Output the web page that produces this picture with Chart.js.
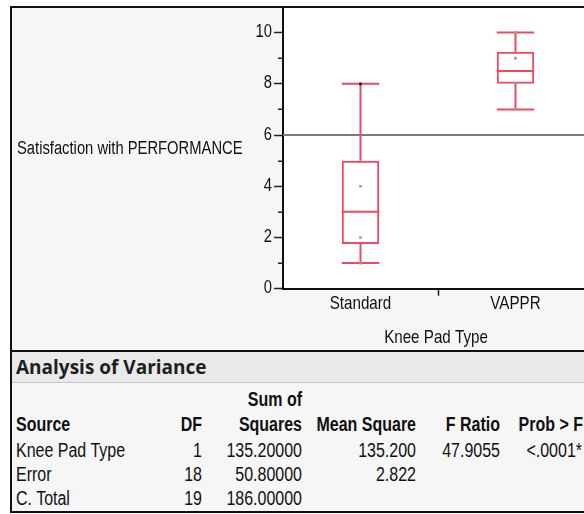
<!DOCTYPE html>
<html>
<head>
<meta charset="utf-8">
<script src="https://cdn.jsdelivr.net/npm/chart.js@4/dist/chart.umd.min.js"></script>
<style>
  html, body { margin: 0; padding: 0; background: #fff; overflow: hidden; }
  body { width: 584px; height: 514px; position: relative; }
  #panel { position: absolute; left: 10px; top: 6px; width: 620px; height: 507px; background: #f6f6f6; }
  #frame { position: absolute; left: 10px; top: 6px; width: 620px; height: 503px;
           border-left: 2px solid #111; border-top: 2px solid #111; border-bottom: 2px solid #111;
           z-index: 5; pointer-events: none; }
  #chart { position: absolute; left: 0; top: 0; z-index: 2; }
  .narrow { font-family: "Liberation Sans", Arial, sans-serif; color: #111; }
  #ytitle { position: absolute; left: 17px; top: 137px; font-size: 18px; line-height: 22px; white-space: nowrap;
            z-index: 3; transform: scaleX(0.82); transform-origin: left center; }
  #divider { position: absolute; left: 10px; top: 350px; width: 620px; height: 2px; background: #111; z-index: 4; }
  #band { position: absolute; left: 12px; top: 352px; width: 620px; height: 30px; background: #e9e9e9;
          border-bottom: 1px solid #c6c6c6; z-index: 3; }
  #bandTitle { position: absolute; left: 16px; top: 354px; font-family: "Open Sans", "DejaVu Sans", sans-serif;
               font-weight: 700; font-size: 19px; line-height: 26px; color: #1e1e1e; z-index: 4; white-space: nowrap; }
  .cell { position: absolute; font-size: 19.5px; line-height: 22px; white-space: nowrap; z-index: 3; }
  .cell.left { transform: scaleX(0.82); transform-origin: left center; }
  .cell.right { transform: scaleX(0.82); transform-origin: right center; text-align: right; width: 300px; }
  .hdr { font-weight: 700; }
</style>
</head>
<body>
<div id="panel"></div>
<canvas id="chart" width="600" height="350"></canvas>
<div id="ytitle" class="narrow">Satisfaction with PERFORMANCE</div>
<div id="divider"></div>
<div id="band"></div>
<div id="bandTitle">Analysis of Variance</div>
<div id="table"></div>
<div id="frame"></div>

<script>
// Box-plot summary per knee pad type
const categories   = ['Standard', 'VAPPR'];
const whiskerLow   = [1, 7];
const quartile1    = [1.75, 8];
const medians      = [3, 8.5];
const quartile3    = [5, 9.25];
const whiskerHigh  = [8, 10];
const grandMean    = 6;

// Individual responses shown as dots
const standardPoints = [8, 4, 3, 2, 1];
const vapprPoints    = [10, 9, 8, 7];

// Y axis tick values
const yTicks = [0, 2, 4, 6, 8, 10];
const xTitle = 'Knee Pad Type';

// Analysis of variance table
const anovaSource  = ['Knee Pad Type', 'Error', 'C. Total'];
const anovaDF      = ['1', '18', '19'];
const anovaSS      = ['135.20000', '50.80000', '186.00000'];
const anovaMS      = ['135.200', '2.822', ''];
const anovaF       = ['47.9055', '', ''];
const anovaProb    = ['<.0001*', '', ''];

const RED = '#ef4a60';
const LABEL_FONT = '"Liberation Sans", Arial, sans-serif';
const SQUEEZE = 0.82;

const dots = [];
const dotColors = [];
standardPoints.forEach(v => { dots.push({ x: categories[0], y: v }); dotColors.push(v === 8 ? '#222' : '#9a9a9a'); });
vapprPoints.forEach(v => { dots.push({ x: categories[1], y: v }); dotColors.push('#9a9a9a'); });

// narrow text drawn by horizontally squeezing a regular sans face
function narrowText(ctx, text, x, y, align, size) {
  ctx.save();
  ctx.font = size + 'px ' + LABEL_FONT;
  ctx.fillStyle = '#111';
  ctx.textBaseline = 'middle';
  ctx.textAlign = align;
  ctx.translate(x, y);
  ctx.scale(SQUEEZE, 1);
  ctx.fillText(text, 0, 0);
  ctx.restore();
}

const boxPlugin = {
  id: 'boxParts',
  beforeDraw(chart) {
    const { ctx, chartArea: a } = chart;
    ctx.save();
    ctx.fillStyle = '#ffffff';
    ctx.fillRect(a.left, a.top, a.right - a.left, a.bottom - a.top);
    ctx.restore();
  },
  beforeDatasetsDraw(chart) {
    const { ctx, chartArea: a, scales: { x, y } } = chart;
    const boxMeta = chart.getDatasetMeta(1);
    ctx.save();
    // grand mean line
    ctx.strokeStyle = '#7a7a7a';
    ctx.lineWidth = 2;
    const gy = y.getPixelForValue(grandMean);
    ctx.beginPath(); ctx.moveTo(a.left, gy); ctx.lineTo(a.right, gy); ctx.stroke();
    // whiskers, caps and medians
    ctx.strokeStyle = RED;
    ctx.lineWidth = 2;
    categories.forEach((c, i) => {
      const half = boxMeta.data[i].width / 2;
      const cx = x.getPixelForValue(i);
      const yLo = y.getPixelForValue(whiskerLow[i]);
      const yHi = y.getPixelForValue(whiskerHigh[i]);
      const yQ1 = y.getPixelForValue(quartile1[i]);
      const yQ3 = y.getPixelForValue(quartile3[i]);
      const yMed = y.getPixelForValue(medians[i]);
      ctx.beginPath();
      ctx.moveTo(cx, yQ1); ctx.lineTo(cx, yLo);
      ctx.moveTo(cx, yQ3); ctx.lineTo(cx, yHi);
      ctx.moveTo(cx - half, yLo); ctx.lineTo(cx + half, yLo);
      ctx.moveTo(cx - half, yHi); ctx.lineTo(cx + half, yHi);
      ctx.moveTo(cx - half, yMed); ctx.lineTo(cx + half, yMed);
      ctx.stroke();
    });
    ctx.restore();
  },
  afterDraw(chart) {
    const { ctx, chartArea: a, scales: { x, y } } = chart;
    // short minor ticks at odd values
    ctx.save();
    ctx.strokeStyle = '#222';
    ctx.lineWidth = 1.5;
    for (let v = 1; v <= 9; v += 2) {
      const py = Math.round(y.getPixelForValue(v)) + 0.25;
      ctx.beginPath(); ctx.moveTo(a.left - 5, py); ctx.lineTo(a.left, py); ctx.stroke();
    }
    ctx.restore();
    // axis labels
    y.ticks.forEach(t => narrowText(ctx, String(t.value), a.left - 11, y.getPixelForValue(t.value) - 0.5, 'right', 18));
    categories.forEach((c, i) => narrowText(ctx, c, x.getPixelForValue(i), a.bottom + 15, 'center', 18.5));
    narrowText(ctx, xTitle, (x.getPixelForValue(0) + x.getPixelForValue(1)) / 2 - 2, a.bottom + 49.5, 'center', 18.5);
  }
};

new Chart(document.getElementById('chart'), {
  type: 'bar',
  data: {
    labels: categories,
    datasets: [
      {
        type: 'scatter',
        data: dots,
        order: 0,
        pointStyle: 'rect',
        pointRadius: 1.9,
        pointBorderWidth: 0,
        pointBackgroundColor: dotColors,
        pointBorderColor: dotColors
      },
      {
        type: 'bar',
        data: categories.map((c, i) => [quartile1[i], quartile3[i]]),
        order: 1,
        backgroundColor: 'rgba(0,0,0,0)',
        borderColor: RED,
        borderWidth: 2,
        borderSkipped: false,
        categoryPercentage: 1,
        barPercentage: 0.242
      }
    ]
  },
  options: {
    responsive: false,
    animation: false,
    devicePixelRatio: 1,
    layout: { padding: { top: 7, right: 7, left: 0, bottom: 0 } },
    plugins: { legend: { display: false }, tooltip: { enabled: false } },
    scales: {
      x: {
        type: 'category',
        offset: true,
        grid: {
          offset: true,
          drawOnChartArea: false,
          tickLength: 7,
          tickWidth: 1.5,
          tickColor: c => (c.index === 1 ? '#222' : 'rgba(0,0,0,0)')
        },
        border: { color: '#111', width: 2 },
        ticks: { display: false },
        afterFit: s => { s.height = 350 - 288.7; }
      },
      y: {
        min: 0,
        max: 11,
        afterBuildTicks: s => { s.ticks = yTicks.map(v => ({ value: v })); },
        ticks: { display: false },
        grid: { drawOnChartArea: false, tickLength: 9, tickWidth: 1.5, tickColor: '#222' },
        border: { color: '#111', width: 2 },
        afterFit: s => { s.width = 283; }
      }
    }
  },
  plugins: [boxPlugin]
});

// ANOVA table cells; right-aligned cells end at each column's right edge
const table = document.getElementById('table');
function cell(text, edge, cy, bold, alignLeft) {
  const d = document.createElement('div');
  d.className = 'cell narrow ' + (alignLeft ? 'left' : 'right') + (bold ? ' hdr' : '');
  d.textContent = text;
  d.style.top = (cy - 11) + 'px';
  d.style.left = (alignLeft ? edge : edge - 300) + 'px';
  table.appendChild(d);
}
const colRight = [16, 202, 302, 416, 500, 583];
const headerY = 424;
cell('Sum of', colRight[2], 399, true);
cell('Source', colRight[0], headerY, true, true);
cell('DF', colRight[1], headerY, true);
cell('Squares', colRight[2], headerY, true);
cell('Mean Square', colRight[3], headerY, true);
cell('F Ratio', colRight[4], headerY, true);
cell('Prob > F', colRight[5], headerY, true);
const rowY = [450, 474, 498];
anovaSource.forEach((s, i) => {
  cell(s, colRight[0], rowY[i], false, true);
  cell(anovaDF[i], colRight[1], rowY[i]);
  cell(anovaSS[i], colRight[2], rowY[i]);
  if (anovaMS[i]) cell(anovaMS[i], colRight[3], rowY[i]);
  if (anovaF[i]) cell(anovaF[i], colRight[4], rowY[i]);
  if (anovaProb[i]) cell(anovaProb[i], 582, rowY[i]);
});
</script>
</body>
</html>
